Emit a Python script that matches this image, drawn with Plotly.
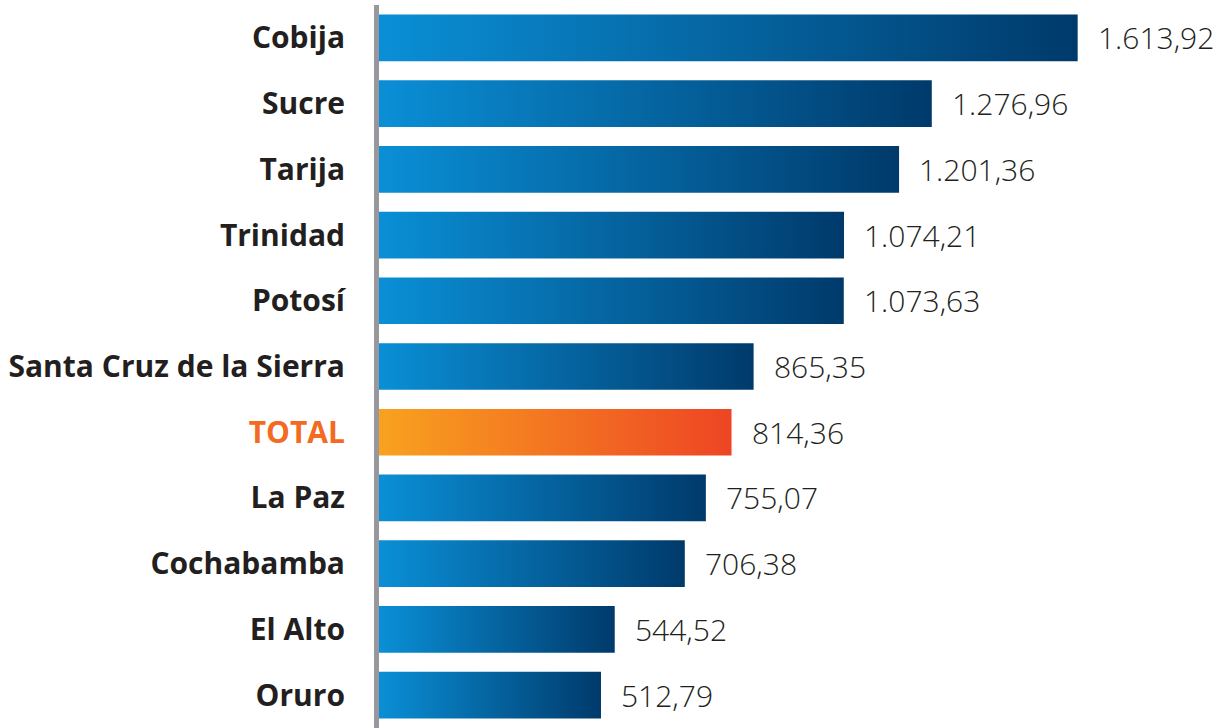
import plotly.graph_objects as go

categories = ["Cobija", "Sucre", "Tarija", "Trinidad", "Potosí",
              "Santa Cruz de la Sierra", "TOTAL", "La Paz", "Cochabamba",
              "El Alto", "Oruro"]
values = [1613.92, 1276.96, 1201.36, 1074.21, 1073.63, 865.35,
          814.36, 755.07, 706.38, 544.52, 512.79]
highlight = "TOTAL"

BLUE = [[0, "#0a8fd6"], [1, "#003a6b"]]
ORANGE = [[0, "#f8a21f"], [1, "#ee4524"]]
TEXT = "#231f20"
ORANGE_TXT = "#f26b21"
HALF = 0.355


def fmt(v):
    s = f"{v:,.2f}"
    return s.replace(",", "X").replace(".", ",").replace("X", ".")


fig = go.Figure()
for i, (c, v) in enumerate(zip(categories, values)):
    fig.add_trace(go.Scatter(
        x=[0, v, v, 0, 0],
        y=[i - HALF, i - HALF, i + HALF, i + HALF, i - HALF],
        mode="lines", line=dict(width=0), fill="toself",
        fillgradient=dict(type="horizontal",
                          colorscale=ORANGE if c == highlight else BLUE),
        hoverinfo="skip", showlegend=False,
    ))
    fig.add_annotation(x=v, y=i, text=fmt(v), showarrow=False,
                       xanchor="left", yanchor="middle", xshift=18,
                       font=dict(family="Open Sans", size=30, color=TEXT, weight=300))

ticktext = [f"<span style='color:{ORANGE_TXT}'>{c}</span>" if c == highlight else c
            for c in categories]

fig.update_layout(
    width=1221, height=728,
    margin=dict(l=379, r=0, t=5, b=0),
    paper_bgcolor="white", plot_bgcolor="white",
    xaxis=dict(range=[0, 1945], visible=False, fixedrange=True),
    yaxis=dict(range=[len(categories) - 0.5, -0.5],
               tickvals=list(range(len(categories))), ticktext=ticktext,
               showgrid=False, zeroline=False, fixedrange=True,
               showline=True, linecolor="#98989c", linewidth=5,
               ticks="", ticklabelstandoff=23,
               tickfont=dict(family="Open Sans", size=30, color=TEXT, weight=700)),
)

fig.write_html("out.html", config={"displayModeBar": False},
               post_script="document.body.style.margin='0';document.body.style.padding='0';")
